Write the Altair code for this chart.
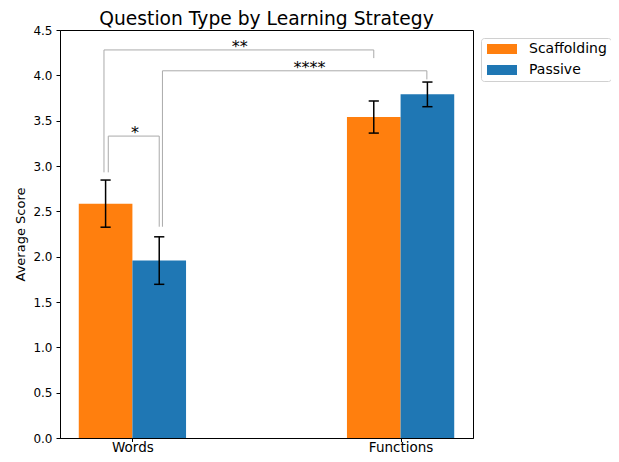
import altair as alt
import pandas as pd

# ---- data ----
categories = ["Words", "Functions"]
strategies = ["Scaffolding", "Passive"]
scaffolding_mean = [2.585, 3.54]
passive_mean = [1.957, 3.79]
scaffolding_err = [0.26, 0.177]
passive_err = [0.262, 0.136]

# significance brackets
bracket_label = ["*", "**", "****"]
bracket_x1 = [-0.09, -0.106, 0.112]
bracket_x2 = [0.10, 0.90, 1.098]
bracket_y = [3.33, 4.28, 4.05]
bracket_y1_bottom = [2.93, 2.93, 2.33]
bracket_y2_bottom = [2.33, 4.19, 3.955]
bracket_text_x = [0.01, 0.40, 0.66]

colors = ["#ff7f0e", "#1f77b4"]
bar_width = 0.2
cap_half = 0.019
FONT = "DejaVu Sans"

# ---- tables ----
bar_rows, err_rows, cap_rows = [], [], []
means = [scaffolding_mean, passive_mean]
errs = [scaffolding_err, passive_err]
for i, cat in enumerate(categories):
    for s, strat in enumerate(strategies):
        xc = i + (s - 0.5) * bar_width
        m = means[s][i]
        e = errs[s][i]
        bar_rows.append({"category": cat, "strategy": strat, "xl": xc - bar_width / 2,
                         "xr": xc + bar_width / 2, "mean": m, "base": 0.0})
        err_rows.append({"xc": xc, "lo": m - e, "hi": m + e})
        for yv in (m - e, m + e):
            cap_rows.append({"cl": xc - cap_half, "cr": xc + cap_half, "cy": yv})

seg_rows, txt_rows = [], []
for k, lab in enumerate(bracket_label):
    x1, x2, y = bracket_x1[k], bracket_x2[k], bracket_y[k]
    seg_rows.append({"sx": x1, "sx2": x1, "sy": bracket_y1_bottom[k], "sy2": y})
    seg_rows.append({"sx": x1, "sx2": x2, "sy": y, "sy2": y})
    seg_rows.append({"sx": x2, "sx2": x2, "sy": bracket_y2_bottom[k], "sy2": y})
    txt_rows.append({"tx": bracket_text_x[k], "ty": y, "label": lab})

bars_df = pd.DataFrame(bar_rows)
err_df = pd.DataFrame(err_rows)
cap_df = pd.DataFrame(cap_rows)
seg_df = pd.DataFrame(seg_rows)
txt_df = pd.DataFrame(txt_rows)

xscale = alt.Scale(domain=[-0.27, 1.27], nice=False, zero=False)
yscale = alt.Scale(domain=[0, 4.5], nice=False)

label_expr = "['" + "','".join(categories) + "'][datum.value]"

xaxis = alt.Axis(values=[0, 1], labelExpr=label_expr, title=None, grid=False,
                 labelFont=FONT, labelFontSize=13.5, tickSize=3.5, labelPadding=-1.5)
yaxis = alt.Axis(values=[0, 0.5, 1, 1.5, 2, 2.5, 3, 3.5, 4, 4.5], format=".1f",
                 title="Average Score", grid=False, labelFont=FONT, labelFontSize=12,
                 tickSize=4, labelPadding=4, titleFont=FONT, titleFontSize=13,
                 titleFontWeight="normal", titlePadding=5)

bars = alt.Chart(bars_df).mark_rect().encode(
    x=alt.X("xl:Q", scale=xscale, axis=xaxis),
    x2="xr:Q",
    y=alt.Y("mean:Q", scale=yscale, axis=yaxis),
    y2="base:Q",
    color=alt.Color("strategy:N", scale=alt.Scale(domain=strategies, range=colors),
                    legend=alt.Legend(title=None, orient="none", legendX=421, legendY=8,
                                      symbolType="M-1,-1H5V1H-1Z", symbolSize=100,
                                      symbolStrokeWidth=0, labelFontSize=14,
                                      labelFont=FONT, labelColor="black", padding=4,
                                      rowPadding=7, labelOffset=30,
                                      strokeColor="#d0d0d0", cornerRadius=3,
                                      fillColor="white")),
)

errbars = alt.Chart(err_df).mark_rule(color="black", strokeWidth=1.5).encode(
    x=alt.X("xc:Q", scale=xscale), y=alt.Y("lo:Q", scale=yscale), y2="hi:Q")

caps = alt.Chart(cap_df).mark_rule(color="black", strokeWidth=1.5).encode(
    x=alt.X("cl:Q", scale=xscale), x2="cr:Q", y=alt.Y("cy:Q", scale=yscale))

segs = alt.Chart(seg_df).mark_rule(color="#aaaaaa", strokeWidth=1).encode(
    x=alt.X("sx:Q", scale=xscale), x2="sx2:Q",
    y=alt.Y("sy:Q", scale=yscale), y2="sy2:Q")

texts = alt.Chart(txt_df).mark_text(font=FONT, fontSize=16, baseline="alphabetic",
                                    align="center", dy=2, color="black").encode(
    x=alt.X("tx:Q", scale=xscale), y=alt.Y("ty:Q", scale=yscale), text="label:N")

chart = alt.layer(bars, segs, errbars, caps, texts).properties(
    width=413, height=408,
    title=alt.Title("Question Type by Learning Strategy", fontSize=18.7,
                    fontWeight="normal", font=FONT, color="black", anchor="middle",
                    offset=2, dy=7),
    autosize=alt.AutoSizeParams(type="none"),
    padding={"left": 52, "top": 22, "right": 138, "bottom": 16},
).configure(background="white", font=FONT).configure_view(
    stroke="black", strokeWidth=1
).configure_axis(
    domainColor="black", tickColor="black", labelColor="black", titleColor="black",
    labelFont=FONT, titleFont=FONT, domainWidth=1, tickWidth=1
)

chart.save("out.html", embed_options={"renderer": "svg", "actions": False})
